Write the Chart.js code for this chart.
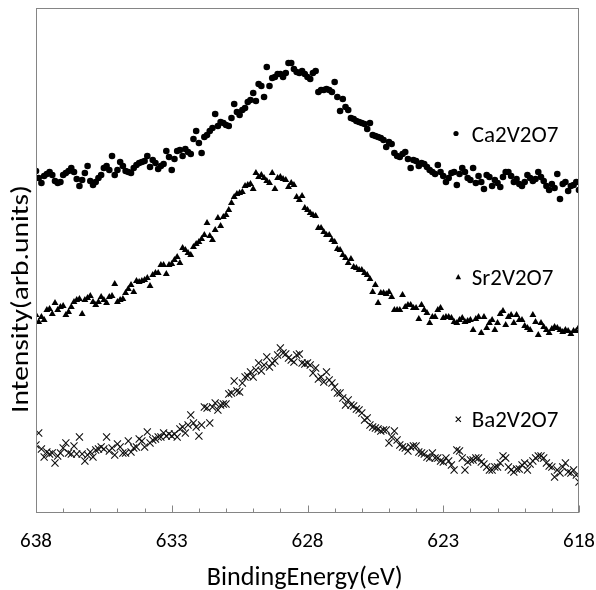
<!DOCTYPE html>
<html><head><meta charset="utf-8">
<script src="https://cdn.jsdelivr.net/npm/chart.js@4.4.0/dist/chart.umd.min.js"></script>
<style>html,body{margin:0;padding:0;background:#fff}#wrap{width:596px;height:590px;position:relative}</style>
</head><body><div id="wrap"><canvas id="c"></canvas></div>
<script>
// Binding energy grid (eV): starts at 638 and goes down in 0.1 eV steps
const energyStart = 638;
const energyStep = 0.1;
const xTickValues = [638, 633, 628, 623, 618];
const seriesNames = ['Ca2V2O7', 'Sr2V2O7', 'Ba2V2O7'];
const xTitle = 'BindingEnergy(eV)';
const yTitle = 'Intensity(arb.units)';

// Intensities (arb. units), one value per energy step
const ca2v2o7 = [342,335,330,337,339,341,338,332,330,331,
338,340,342,345,341,334,327,333,340,347,
332,328,331,335,338,345,347,343,357,338,
343,351,347,342,341,340,345,348,350,351,
352,357,346,353,350,344,347,349,362,356,
343,354,362,363,357,364,361,359,374,382,
370,360,376,378,382,385,399,387,391,390,
388,387,395,409,401,398,403,405,411,413,
420,412,429,427,416,446,427,435,436,439,
439,436,440,450,450,444,441,440,442,439,
436,434,440,442,421,423,423,424,423,421,
431,416,402,414,406,403,395,394,392,391,
390,389,384,390,378,377,376,375,373,366,
371,369,360,357,356,359,361,354,345,353,
352,347,350,349,346,343,341,339,348,341,
337,331,335,340,341,328,339,345,341,335,
333,345,330,337,331,324,338,336,327,333,
330,326,336,341,341,337,331,334,329,327,
331,338,335,332,334,341,336,332,327,323,
329,325,339,314,329,331,322,327,328,331,
323];

const sr2v2o7 = [198,191,196,193,203,204,199,210,203,206,
207,198,201,206,211,213,214,199,213,215,
217,211,208,211,216,213,210,216,217,229,
211,213,214,220,224,228,221,232,231,232,
233,235,227,238,240,240,248,248,239,248,
249,253,256,250,265,263,260,258,266,269,
271,274,278,290,277,273,283,295,287,296,
298,303,310,316,319,320,321,327,328,329,
324,340,336,338,335,332,330,340,324,335,
336,334,333,326,330,328,316,313,317,305,
303,300,298,297,285,285,281,278,278,273,
271,264,263,258,255,250,254,246,245,243,
243,240,238,234,221,228,210,220,220,219,
221,216,203,203,203,218,206,208,208,205,
205,194,208,203,200,190,196,196,203,205,
195,196,196,195,191,190,193,195,191,192,
193,183,194,196,180,196,185,190,193,183,
190,199,202,188,196,198,190,198,193,193,
187,185,183,198,191,178,190,186,183,180,
184,186,185,183,181,183,182,179,182,182,
186];

const ba2v2o7 = [68,80,64,56,61,59,60,50,57,60,
65,70,60,59,67,59,76,59,52,58,
61,56,63,64,66,64,76,62,65,58,
69,66,60,60,72,61,65,66,74,72,
66,81,70,73,74,76,76,80,77,79,
77,79,76,84,86,80,88,98,90,86,
77,88,106,105,90,106,110,103,108,109,
109,119,120,132,122,121,130,136,137,141,
136,143,150,142,148,156,146,150,152,158,
165,160,159,155,153,151,158,159,150,149,
150,148,140,145,134,136,131,141,133,130,
126,120,120,115,108,113,108,107,104,103,
100,93,95,88,86,85,84,82,83,83,
70,76,82,73,68,66,65,62,66,67,
67,61,60,59,56,55,60,55,55,52,
51,55,52,48,43,63,62,55,43,51,
53,53,55,55,51,49,46,43,43,46,
46,50,57,55,46,43,41,44,44,48,
50,43,49,52,55,57,57,55,50,47,
46,36,43,40,46,50,41,40,43,38,
31];

const FONT = 'Carlito, Lato, "Open Sans", sans-serif';
const AXIS_GRAY = '#858585';

function toPoints(arr) {
  return arr.map((v, i) => ({ x: +(energyStart - i * energyStep).toFixed(1), y: v }));
}

function fitText(ctx, text, x, y, size, width, align) {
  ctx.font = size + 'px ' + FONT;
  const w = ctx.measureText(text).width;
  const sx = width / w;
  ctx.save();
  ctx.translate(x, y);
  ctx.scale(sx, 1);
  ctx.textAlign = align;
  ctx.textBaseline = 'alphabetic';
  ctx.fillText(text, 0, 0);
  ctx.restore();
}

const decorPlugin = {
  id: 'decor',
  afterDatasetsDraw(chart) {
    const ctx = chart.ctx;
    const a = chart.chartArea;
    const xs = chart.scales.x;
    ctx.save();
    // frame
    ctx.strokeStyle = AXIS_GRAY;
    ctx.lineWidth = 1;
    ctx.strokeRect(Math.round(a.left) + 0.5, Math.round(a.top) + 0.5,
      Math.round(a.right - a.left) - 1, Math.round(a.bottom - a.top) - 1);
    // inward ticks every 1 eV, longer at labelled values
    const bottom = Math.round(a.bottom) - 0.5;
    for (let e = 618; e <= 638; e++) {
      const px = Math.round(xs.getPixelForValue(e)) + 0.5;
      const len = xTickValues.includes(e) ? 7 : 4;
      ctx.beginPath();
      ctx.moveTo(px, bottom);
      ctx.lineTo(px, bottom - len);
      ctx.stroke();
    }
    ctx.fillStyle = '#000';
    // x title
    fitText(ctx, xTitle, 304.7, 584.5, 27, 196, 'center');
    // y title
    ctx.save();
    ctx.translate(28.3, 299);
    ctx.rotate(-Math.PI / 2);
    fitText(ctx, yTitle, 0, 0, 25.5, 228, 'center');
    ctx.restore();
    // in-plot legend
    const legend = [
      { name: seriesNames[0], mx: 456, my: 133.5, base: 141.7, w: 86.7, style: 'circle' },
      { name: seriesNames[1], mx: 458.3, my: 277, base: 285, w: 81.7, style: 'triangle' },
      { name: seriesNames[2], mx: 458.3, my: 419.3, base: 426.7, w: 86.7, style: 'cross' }
    ];
    legend.forEach(l => {
      ctx.fillStyle = '#000';
      ctx.strokeStyle = '#000';
      if (l.style === 'circle') {
        ctx.beginPath(); ctx.arc(l.mx, l.my, 2.6, 0, Math.PI * 2); ctx.fill();
      } else if (l.style === 'triangle') {
        ctx.beginPath();
        ctx.moveTo(l.mx, l.my - 3); ctx.lineTo(l.mx + 2.8, l.my + 2.2); ctx.lineTo(l.mx - 2.8, l.my + 2.2);
        ctx.closePath(); ctx.fill();
      } else {
        ctx.lineWidth = 1.1;
        ctx.beginPath();
        ctx.moveTo(l.mx - 2.6, l.my - 2.6); ctx.lineTo(l.mx + 2.6, l.my + 2.6);
        ctx.moveTo(l.mx + 2.6, l.my - 2.6); ctx.lineTo(l.mx - 2.6, l.my + 2.6);
        ctx.stroke();
      }
      fitText(ctx, l.name, 471.7, l.base, 23, l.w, 'left');
    });
    ctx.restore();
  }
};

new Chart(document.getElementById('c'), {
  type: 'scatter',
  data: {
    datasets: [
      { label: seriesNames[0], data: toPoints(ca2v2o7), pointStyle: 'circle', pointRadius: 3.3,
        backgroundColor: '#000', borderColor: '#000', borderWidth: 0 },
      { label: seriesNames[1], data: toPoints(sr2v2o7), pointStyle: 'triangle', pointRadius: 4,
        backgroundColor: '#000', borderColor: '#000', borderWidth: 0 },
      { label: seriesNames[2], data: toPoints(ba2v2o7), pointStyle: 'crossRot', pointRadius: 5,
        backgroundColor: '#111', borderColor: '#111', borderWidth: 1.1 }
    ]
  },
  options: {
    responsive: true,
    maintainAspectRatio: false,
    animation: false,
    devicePixelRatio: 1,
    layout: { padding: { top: 8, right: 17, left: 0, bottom: 0 } },
    plugins: { legend: { display: false }, tooltip: { enabled: false } },
    scales: {
      x: {
        type: 'linear', reverse: true, min: 618, max: 638,
        afterFit(s) { s.height = 77; s.paddingLeft = 0; s.paddingRight = 0; },
        afterBuildTicks(s) { s.ticks = xTickValues.map(v => ({ value: v })); },
        ticks: { font: { family: FONT, size: 21 }, color: '#000', padding: 16, maxRotation: 0, autoSkip: false },
        grid: { display: false, drawTicks: false },
        border: { display: false },
        title: { display: false }
      },
      y: {
        min: 0, max: 505,
        afterFit(s) { s.width = 36; s.paddingTop = 0; s.paddingBottom = 0; },
        ticks: { display: false },
        grid: { display: false, drawTicks: false },
        border: { display: false },
        title: { display: false }
      }
    }
  },
  plugins: [decorPlugin]
});
</script>
</body></html>
